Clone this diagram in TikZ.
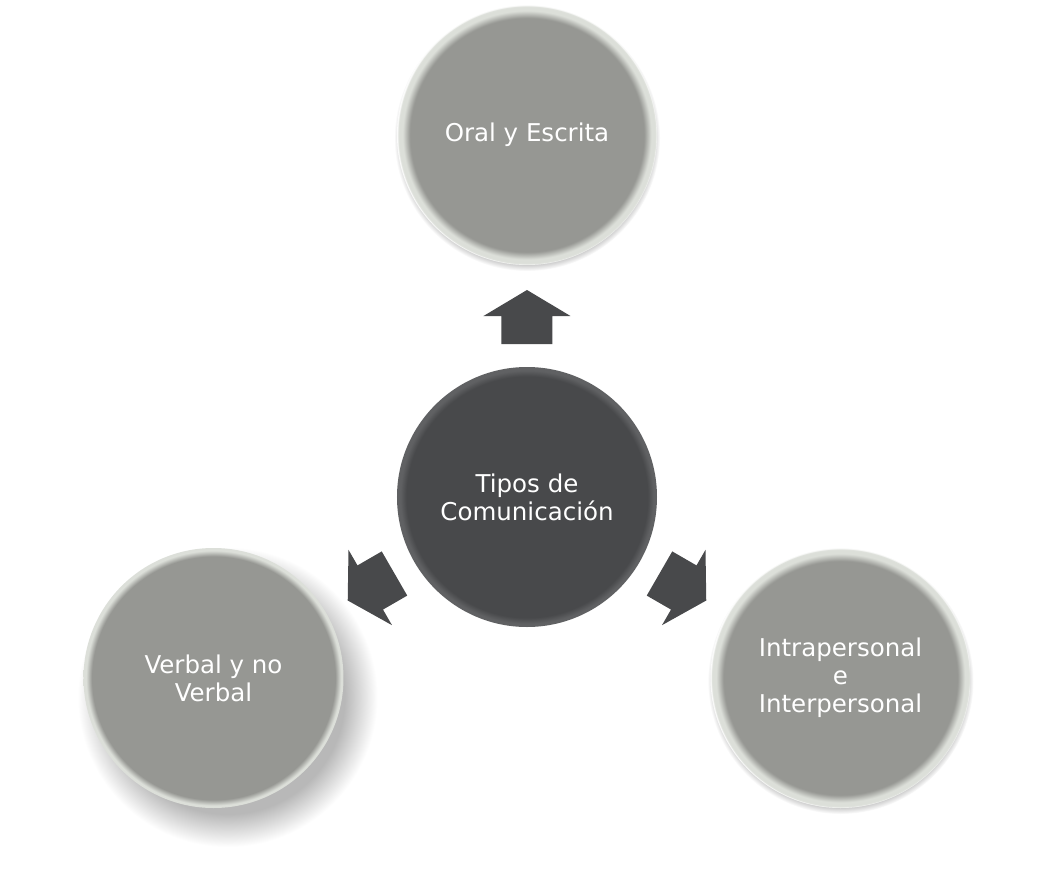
\documentclass[tikz,border=0pt]{standalone}
\usepackage{fontspec}
\setmainfont{DejaVu Sans}
\definecolor{ballgray}{RGB}{150,151,147}
\definecolor{rimlight}{RGB}{220,223,217}
\definecolor{darkball}{RGB}{72,73,75}
\definecolor{darkrim}{RGB}{96,97,99}
\definecolor{shadowgray}{RGB}{184,184,184}
\definecolor{lightshadow}{RGB}{205,205,205}
\pgfdeclareradialshading{outerrim}{\pgfpointorigin}{color(0bp)=(ballgray); color(22.5bp)=(ballgray); color(23.9bp)=(rimlight); color(24.7bp)=(rimlight); color(25bp)=(white); color(50bp)=(white)}
\pgfdeclareradialshading{thinrim}{\pgfpointorigin}{color(0bp)=(ballgray); color(23.4bp)=(ballgray); color(24.5bp)=(rimlight); color(25bp)=(rimlight); color(50bp)=(white)}
\pgfdeclareradialshading{innerrim}{\pgfpointorigin}{color(0bp)=(darkball); color(23.2bp)=(darkball); color(24.4bp)=(darkrim); color(25bp)=(darkrim); color(50bp)=(darkrim)}
\pgfdeclareradialshading{nearshadow}{\pgfpointorigin}{color(0bp)=(lightshadow); color(23.8bp)=(lightshadow); color(25bp)=(white); color(50bp)=(white)}
\pgfdeclareradialshading{farshadow}{\pgfpointorigin}{color(0bp)=(shadowgray); color(19.5bp)=(shadowgray); color(25bp)=(white); color(50bp)=(white)}

\begin{document}
\begin{tikzpicture}[x=1pt,y=1pt,
  ball/.style={circle,inner sep=0pt,minimum size=260pt,text=white,align=center,font=\fontsize{24.5}{28}\selectfont},
  outerball/.style={ball,shading=outerrim}]
\fill[white] (-527,-371) rectangle (528,497);
\useasboundingbox (-527,-371) rectangle (528,497);

% shadows under the outer circles
\foreach \a/\dx/\dy/\r/\s in {90/0/-3/133/nearshadow, 330/0/-3/133/nearshadow, 210/14/-19/150/farshadow}
  \shade[shading=\s,shift={(\a:362)}] (\dx,\dy) circle (\r);

\node[ball,shading=innerrim] (tipos) at (0,0) {Tipos de\\Comunicación};
\foreach \a/\n/\t/\s in {90/oral/Oral y Escrita/outerrim, 210/verbal/Verbal y no\\Verbal/thinrim, 330/intra/Intrapersonal\\e\\Interpersonal/outerrim}
  \node[outerball,shading=\s] (\n) at (\a:362) {\t};

\foreach \a in {90,210,330}
  \fill[darkball,shift={(tipos.center)},rotate=\a] (153,-25.5) -- (181,-25.5) -- (181,-43.5) -- (207,0) -- (181,43.5) -- (181,25.5) -- (153,25.5) -- cycle;

\end{tikzpicture}
\end{document}
